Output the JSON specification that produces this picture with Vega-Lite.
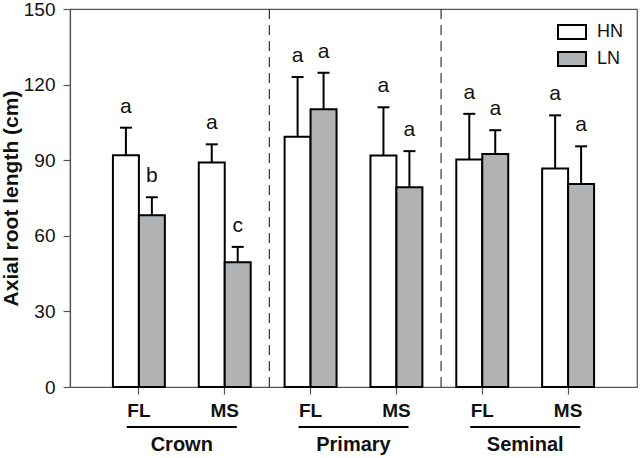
{
  "$schema": "https://vega.github.io/schema/vega-lite/v6.json",
  "width": 567,
  "height": 378,
  "autosize": {"type": "none"},
  "padding": {"left": 70, "top": 9, "right": 3, "bottom": 71},
  "background": "white",
  "config": {
    "font": "Liberation Sans",
    "view": {"stroke": "#555", "strokeWidth": 1.2},
    "axis": {"grid": false, "domainColor": "#555", "tickColor": "#555", "labelColor": "#111", "titleColor": "#111", "domainWidth": 1.2, "tickWidth": 1.2}
  },
  "datasets": {
    "bars": [
      {"pair": "Crown FL", "n": "HN", "value": 92.0, "upper": 102.9, "letter": "a"},
      {"pair": "Crown FL", "n": "LN", "value": 68.2, "upper": 75.3, "letter": "b"},
      {"pair": "Crown MS", "n": "HN", "value": 89.1, "upper": 96.3, "letter": "a"},
      {"pair": "Crown MS", "n": "LN", "value": 49.5, "upper": 55.6, "letter": "c"},
      {"pair": "Primary FL", "n": "HN", "value": 99.3, "upper": 123.0, "letter": "a"},
      {"pair": "Primary FL", "n": "LN", "value": 110.2, "upper": 124.7, "letter": "a"},
      {"pair": "Primary MS", "n": "HN", "value": 91.9, "upper": 111.0, "letter": "a"},
      {"pair": "Primary MS", "n": "LN", "value": 79.3, "upper": 93.6, "letter": "a"},
      {"pair": "Seminal FL", "n": "HN", "value": 90.3, "upper": 108.4, "letter": "a"},
      {"pair": "Seminal FL", "n": "LN", "value": 92.5, "upper": 101.9, "letter": "a"},
      {"pair": "Seminal MS", "n": "HN", "value": 86.7, "upper": 107.8, "letter": "a"},
      {"pair": "Seminal MS", "n": "LN", "value": 80.6, "upper": 95.5, "letter": "a"}
    ],
    "groups": [
      {"group": "Crown"},
      {"group": "Primary"},
      {"group": "Seminal"}
    ]
  },
  "layer": [
    {
      "data": {"name": "bars"},
      "encoding": {
        "x": {
          "field": "pair", "type": "nominal",
          "sort": ["Crown FL", "Crown MS", "Primary FL", "Primary MS", "Seminal FL", "Seminal MS"],
          "scale": {"paddingInner": 0.395, "paddingOuter": 0.5},
          "axis": {"title": null, "labelExpr": "split(datum.label, ' ')[1]", "labelAngle": 0, "tickSize": 7, "labelFontSize": 19, "labelFontWeight": "bold", "labelPadding": 7}
        },
        "xOffset": {"field": "n", "type": "nominal", "sort": ["HN", "LN"], "scale": {"paddingInner": 0, "paddingOuter": 0}}
      },
      "layer": [
        {
          "mark": {"type": "bar", "stroke": "black", "strokeWidth": 2},
          "encoding": {
            "y": {
              "field": "value", "type": "quantitative",
              "scale": {"domain": [0, 150], "nice": false},
              "axis": {"title": "Axial root length (cm)", "values": [0, 30, 60, 90, 120, 150], "tickSize": 7, "labelFontSize": 19, "labelPadding": 8, "titleFontSize": 21, "titleFontWeight": "bold", "titlePadding": 2}
            },
            "fill": {
              "field": "n", "type": "nominal",
              "scale": {"domain": ["HN", "LN"], "range": ["white", "#b1b2b4"]},
              "legend": {"orient": "top-right", "title": null, "offset": 14, "padding": 0, "symbolType": "M-2,-1H2V1H-2Z", "symbolSize": 196, "symbolStrokeColor": "black", "symbolStrokeWidth": 2, "symbolOpacity": 1, "labelFontSize": 18, "labelOffset": 16, "labelColor": "#111", "rowPadding": 5}
            }
          }
        },
        {
          "mark": {"type": "rule", "strokeWidth": 2, "color": "black"},
          "encoding": {"y": {"field": "value", "type": "quantitative"}, "y2": {"field": "upper"}}
        },
        {
          "mark": {"type": "tick", "orient": "horizontal", "size": 12, "thickness": 2, "color": "black", "opacity": 1},
          "encoding": {"y": {"field": "upper", "type": "quantitative"}}
        },
        {
          "mark": {"type": "text", "dy": -15, "baseline": "alphabetic", "fontSize": 21, "color": "#111"},
          "encoding": {"y": {"field": "upper", "type": "quantitative"}, "text": {"field": "letter"}}
        }
      ]
    },
    {
      "data": {"name": "groups"},
      "encoding": {
        "x": {
          "field": "group", "type": "nominal",
          "sort": ["Crown", "Primary", "Seminal"],
          "scale": {"paddingInner": 0, "paddingOuter": 0.151},
          "axis": {"orient": "bottom", "title": null, "domain": false, "ticks": false, "labelAngle": 0, "labelFontSize": 20, "labelFontWeight": "bold", "labelPadding": 47}
        }
      },
      "layer": [
        {
          "transform": [{"filter": "datum.group !== 'Crown'"}],
          "mark": {"type": "rule", "strokeDash": [10, 6], "color": "#333", "strokeWidth": 1.2},
          "encoding": {"x": {"field": "group", "type": "nominal", "bandPosition": 0.01}}
        },
        {
          "mark": {"type": "tick", "orient": "horizontal", "size": 110, "thickness": 2, "color": "black", "opacity": 1, "clip": false},
          "encoding": {"y": {"datum": -15.9, "type": "quantitative"}}
        }
      ]
    }
  ],
  "resolve": {"scale": {"x": "independent"}}
}
